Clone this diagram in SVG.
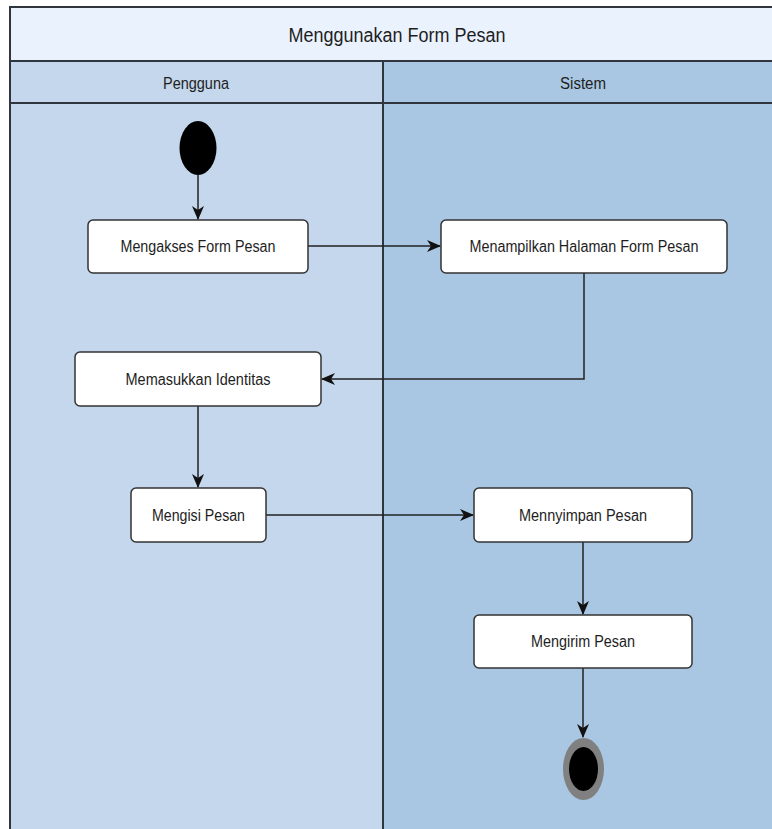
<svg xmlns="http://www.w3.org/2000/svg" width="772" height="829" viewBox="0 0 772 829">
<defs>
<style>
.lbl{font-family:"Liberation Sans",Arial,sans-serif;fill:#1e1e1e;text-anchor:middle;dominant-baseline:central}
.node{fill:#fff;stroke:#333;stroke-width:1.5}
.conn{fill:none;stroke:#222;stroke-width:1.5}
.frame{stroke:#2f3640;stroke-width:2}
</style>
<marker id="arr" viewBox="0 0 14 14" refX="13" refY="7" markerWidth="14" markerHeight="14" markerUnits="userSpaceOnUse" orient="auto">
<path d="M0,1 L14,7 L0,13 L4,7 z" fill="#111"/>
</marker>
</defs>
<rect x="0" y="0" width="772" height="829" fill="#fff"/>
<g id="pool">
<rect x="10" y="7" width="770" height="54" fill="#EAF2FD" class="frame"/>
<rect x="10" y="61" width="373" height="780" fill="#C4D7EC" class="frame"/>
<rect x="383" y="61" width="400" height="780" fill="#A9C7E2" class="frame"/>
<line x1="10" y1="103" x2="780" y2="103" class="frame"/>
<text class="lbl" x="397" y="35" font-size="20" textLength="217" lengthAdjust="spacingAndGlyphs">Menggunakan Form Pesan</text>
<text class="lbl" x="196" y="83" font-size="16" textLength="66" lengthAdjust="spacingAndGlyphs">Pengguna</text>
<text class="lbl" x="583" y="83" font-size="16" textLength="46" lengthAdjust="spacingAndGlyphs">Sistem</text>
</g>
<g id="connectors">
<path class="conn" d="M198,175 V219" marker-end="url(#arr)"/>
<path class="conn" d="M308,246 H440" marker-end="url(#arr)"/>
<path class="conn" d="M584,273 V379 H322" marker-end="url(#arr)"/>
<path class="conn" d="M198,406 V487" marker-end="url(#arr)"/>
<path class="conn" d="M266,515 H473" marker-end="url(#arr)"/>
<path class="conn" d="M583,542 V614" marker-end="url(#arr)"/>
<path class="conn" d="M583,668 V737" marker-end="url(#arr)"/>
</g>
<g id="start">
<ellipse cx="198" cy="148" rx="18.5" ry="27" fill="#000"/>
</g>
<g id="n1">
<rect class="node" x="88" y="220" width="220" height="53" rx="5"/>
<text class="lbl" x="198" y="246.5" font-size="16" textLength="155" lengthAdjust="spacingAndGlyphs">Mengakses Form Pesan</text>
</g>
<g id="n2">
<rect class="node" x="441" y="220" width="286" height="53" rx="5"/>
<text class="lbl" x="584" y="246.5" font-size="16" textLength="229" lengthAdjust="spacingAndGlyphs">Menampilkan Halaman Form Pesan</text>
</g>
<g id="n3">
<rect class="node" x="75" y="352" width="246" height="54" rx="5"/>
<text class="lbl" x="198" y="379" font-size="16" textLength="145" lengthAdjust="spacingAndGlyphs">Memasukkan Identitas</text>
</g>
<g id="n4">
<rect class="node" x="131" y="488" width="135" height="54" rx="5"/>
<text class="lbl" x="198.5" y="515" font-size="16" textLength="93" lengthAdjust="spacingAndGlyphs">Mengisi Pesan</text>
</g>
<g id="n5">
<rect class="node" x="474" y="488" width="218" height="54" rx="5"/>
<text class="lbl" x="583" y="515" font-size="16" textLength="128" lengthAdjust="spacingAndGlyphs">Mennyimpan Pesan</text>
</g>
<g id="n6">
<rect class="node" x="474" y="615" width="218" height="53" rx="5"/>
<text class="lbl" x="583" y="641.5" font-size="16" textLength="104" lengthAdjust="spacingAndGlyphs">Mengirim Pesan</text>
</g>
<g id="end">
<ellipse cx="583.5" cy="769" rx="20.5" ry="31" fill="#808080"/>
<ellipse cx="583.5" cy="769" rx="14.5" ry="22" fill="#000"/>
</g>
</svg>
